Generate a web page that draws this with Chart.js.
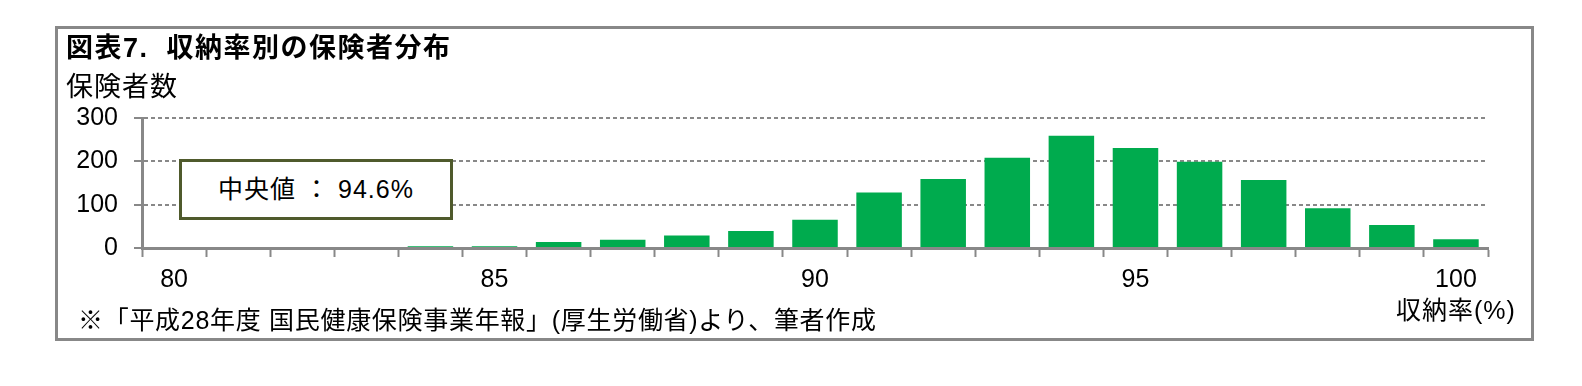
<!DOCTYPE html>
<html lang="ja">
<head>
<meta charset="utf-8">
<script src="https://cdn.jsdelivr.net/npm/chart.js@4.4.0/dist/chart.umd.min.js"></script>
<style>
  body { margin: 0; width: 1582px; height: 386px; background: #fff; overflow: hidden; position: relative;
         font-family: "Liberation Sans", "Noto Sans CJK JP", sans-serif; color: #000; }
  #frame { position: absolute; left: 55px; top: 26px; width: 1479px; height: 315px; box-sizing: border-box; border: 3px solid #888; }
  #chart { position: absolute; left: 0; top: 0; }
  .txt { position: absolute; white-space: nowrap; font-size: 25px; line-height: 25px; }
  #title { left: 66px; top: 36px; font-weight: bold; font-size: 27px; letter-spacing: 1.5px; }
  #ylabel { left: 66px; top: 74px; font-size: 27px; line-height: 27px; letter-spacing: 1px; }
  #note { left: 78px; top: 308px; letter-spacing: 0.7px; }
  #xlabel { left: 1396px; top: 298px; letter-spacing: 1px; }
  #median { position: absolute; left: 179px; top: 159px; width: 274px; height: 61px; box-sizing: border-box;
            border: 3px solid #4f5a2c; background: #fff; font-size: 25px; line-height: 55px; text-align: center; letter-spacing: 1px; }
</style>
</head>
<body>
<div id="frame"></div>
<canvas id="chart" width="1582" height="386"></canvas>
<div class="txt" id="title">図表7.&nbsp;&nbsp;収納率別の保険者分布</div>
<div class="txt" id="ylabel">保険者数</div>
<div id="median">中央値 ： 94.6%</div>
<div class="txt" id="note">※「平成28年度 国民健康保険事業年報」(厚生労働省)より、筆者作成</div>
<div class="txt" id="xlabel">収納率(%)</div>
<script>
// 収納率 (%) の階級
const rates = [80, 81, 82, 83, 84, 85, 86, 87, 88, 89, 90, 91, 92, 93, 94, 95, 96, 97, 98, 99, 100];
// 保険者数
const insurers = [0, 0, 0, 0, 4, 4, 14, 19, 29, 39, 65, 128, 159, 208, 259, 231, 199, 157, 92, 53, 20];
const yTicks = [0, 100, 200, 300];

const axisFont = { family: '"Liberation Sans", "Noto Sans CJK JP", sans-serif', size: 25 };

const ctx = document.getElementById('chart').getContext('2d');
const chart = new Chart(ctx, {
    type: 'bar',
    data: {
        labels: rates.map(String),
        datasets: [{
            data: insurers,
            backgroundColor: '#00ab4e',
            borderWidth: 0,
            categoryPercentage: 1,
            barPercentage: 0.71
        }]
    },
    options: {
        responsive: false,
        animation: false,
        devicePixelRatio: 1,
        layout: { padding: { top: 118, right: 94, left: 0, bottom: 0 } },
        plugins: { legend: { display: false }, tooltip: { enabled: false } },
        scales: {
            x: {
                afterFit: function(scale) { scale.height = 138; },
                grid: {
                    drawOnChartArea: false,
                    offset: true,
                    tickLength: 9,
                    tickWidth: 2,
                    tickColor: '#888'
                },
                border: { color: '#888', width: 3 },
                ticks: {
                    autoSkip: false,
                    maxRotation: 0,
                    padding: 8,
                    color: '#000',
                    font: axisFont,
                    callback: function(value, index) {
                        return rates[index] % 5 === 0 ? String(rates[index]) : '';
                    }
                }
            },
            y: {
                min: 0,
                max: yTicks[yTicks.length - 1],
                afterFit: function(scale) { scale.width = 142; },
                afterBuildTicks: function(scale) { scale.ticks = yTicks.map(v => ({ value: v })); },
                grid: {
                    color: '#888',
                    lineWidth: 2,
                    tickLength: 8,
                    tickWidth: 2,
                    tickColor: '#888',
                    tickBorderDash: []
                },
                // in v4 border.dash sets the dash of the grid lines
                border: { color: '#888', width: 3, dash: [4, 3] },
                ticks: { padding: 16, color: '#000', font: axisFont }
            }
        }
    }
});
</script>
</body>
</html>
